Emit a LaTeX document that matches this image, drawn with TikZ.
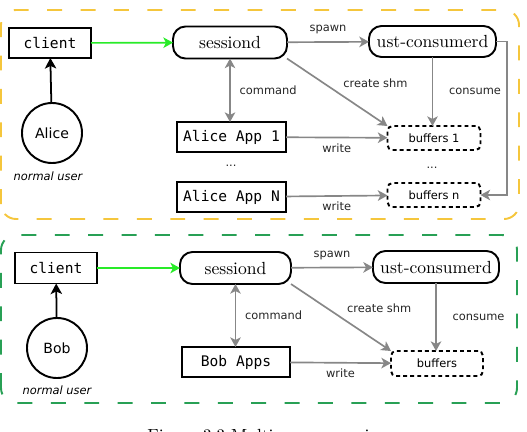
\documentclass[tikz,border=0pt]{standalone}
\usepackage{fontspec}
\newfontfamily\dejavu{DejaVu Sans}
\newfontfamily\dejavumono{DejaVu Sans Mono}
\usetikzlibrary{arrows.meta,positioning,calc,shapes}

\definecolor{aliceyellow}{RGB}{245,198,60}
\definecolor{bobgreen}{RGB}{40,160,85}
\definecolor{flowgray}{RGB}{135,135,135}
\definecolor{connectgreen}{RGB}{40,235,40}

\tikzset{
  prog/.style={rectangle, draw, line width=1.1pt, outer sep=0pt, minimum height=0.6cm,
               font=\dejavumono\fontsize{8.3}{9}\selectfont},
  daemon/.style={rectangle, rounded corners=0.25cm, draw, line width=1.1pt, outer sep=0pt,
                 minimum height=0.64cm, font=\fontsize{10}{12}\selectfont},
  bufbox/.style={rectangle, rounded corners=0.1cm, draw, line width=1.1pt, outer sep=0pt,
                 dash pattern=on 2.2pt off 1.8pt, minimum height=0.48cm, minimum width=1.86cm,
                 font=\dejavu\fontsize{6.5}{7}\selectfont},
  user/.style={circle, draw, line width=1.1pt, outer sep=0pt, minimum size=1.2cm,
               font=\dejavu\fontsize{8}{9}\selectfont},
  flow/.style={draw=flowgray, line width=0.95pt, -{Stealth[length=5.5pt,width=6pt,inset=1.5pt]}},
  lbl/.style={font=\dejavu\fontsize{6.5}{7}\selectfont, text=black!85, inner sep=1pt},
  role/.style={font=\dejavu\itshape\fontsize{6.5}{7}\selectfont},
  group/.style={line width=1.1pt, rounded corners=0.3cm, dash pattern=on 8.5pt off 10.5pt}
}

\begin{document}
\begin{tikzpicture}
        \useasboundingbox (0,0) rectangle (10.54,8.62);

        % the two user areas
        \draw[group, aliceyellow] (0.02,4.24) rectangle (10.38,8.42);
        \draw[group, bobgreen] (0.02,0.56) rectangle (10.34,3.92);

        % Alice
        \node[prog, minimum width=1.64cm] (client1) at (1.0,7.76) {client};
        \node[daemon, minimum width=2.28cm] (sessiond1) at (4.6,7.77) {sessiond};
        \node[daemon, minimum width=2.54cm, minimum height=0.62cm] (consumerd1) at (8.65,7.79) {ust-consumerd};
        \node[user] (alice) at (1.04,5.96) {Alice};
        \node[role] (aliceRole) at (0.96,5.1) {normal user};
        \node[prog, minimum width=2.18cm] (appA) at (4.63,5.88) {Alice App 1};
        \node[lbl] (appDots) at (4.62,5.3) {...};
        \node[prog, minimum width=2.18cm] (appN) at (4.63,4.68) {Alice App N};
        \node[bufbox] (buf1) at (8.68,5.86) {buffers 1};
        \node[lbl] (bufDots) at (8.64,5.26) {...};
        \node[bufbox] (bufN) at (8.68,4.72) {buffers n};

        \draw[line width=1pt, -{Stealth[length=6pt,width=6.5pt,inset=1.5pt]}] (alice) -- (client1);
        \draw[flow, draw=connectgreen] (client1) -- (sessiond1);
        \draw[flow] (sessiond1) -- node[lbl, above=3pt] {spawn} (consumerd1);
        \draw[flow, {Stealth[length=5.5pt,width=6pt,inset=1.5pt]}-{Stealth[length=5.5pt,width=6pt,inset=1.5pt]}]
             (sessiond1.south) -- node[lbl, right=4pt] {command} (sessiond1.south |- appA.north);
        \draw[flow] (sessiond1.south east) -- node[lbl, pos=0.5, anchor=south west, xshift=2pt, yshift=1pt] {create shm} (buf1.north west);
        \draw[flow] (consumerd1.south) -- node[lbl, right=8pt] {consume} (consumerd1.south |- buf1.north);
        \draw[flow] (appA) -- node[lbl, below=2pt] {write} (buf1);
        \draw[flow] (appN) -- node[lbl, below=2pt] {write} (bufN);
        \draw[flow] (consumerd1.east) -- ++(0.22,0) |- (bufN.east);

        % Bob
        \node[prog, minimum width=1.64cm, minimum height=0.62cm] (client2) at (1.12,3.26) {client};
        \node[daemon, minimum width=2.22cm] (sessiond2) at (4.71,3.26) {sessiond};
        \node[daemon, minimum width=2.52cm] (consumerd2) at (8.72,3.28) {ust-consumerd};
        \node[user] (bob) at (1.14,1.66) {Bob};
        \node[role] (bobRole) at (1.14,0.82) {normal user};
        \node[prog, minimum width=2.16cm] (appB) at (4.72,1.38) {Bob Apps};
        \node[bufbox, minimum width=1.84cm, minimum height=0.5cm] (buf2) at (8.74,1.35) {buffers};

        \draw[line width=1pt, -{Stealth[length=6pt,width=6.5pt,inset=1.5pt]}] (bob) -- (client2);
        \draw[flow, draw=connectgreen] (client2) -- (sessiond2);
        \draw[flow] (sessiond2) -- node[lbl, above=3pt] {spawn} (consumerd2);
        \draw[flow, {Stealth[length=5.5pt,width=6pt,inset=1.5pt]}-{Stealth[length=5.5pt,width=6pt,inset=1.5pt]}]
             (sessiond2.south) -- node[lbl, right=4pt] {command} (sessiond2.south |- appB.north);
        \draw[flow] (sessiond2.south east) -- node[lbl, pos=0.5, anchor=south west, xshift=2pt, yshift=1pt] {create shm} (buf2.north west);
        \draw[flow] (consumerd2.south) -- node[lbl, right=8pt] {consume} (consumerd2.south |- buf2.north);
        \draw[flow] (appB) -- node[lbl, below=2pt] {write} (buf2);

        % caption, cut off at the bottom
        \node[anchor=base west, inner sep=0pt, font=\fontsize{10}{12}\selectfont] (caption) at (2.94,-0.2) {Figure 3.3 Multi-user scenario};
\end{tikzpicture}
\end{document}
